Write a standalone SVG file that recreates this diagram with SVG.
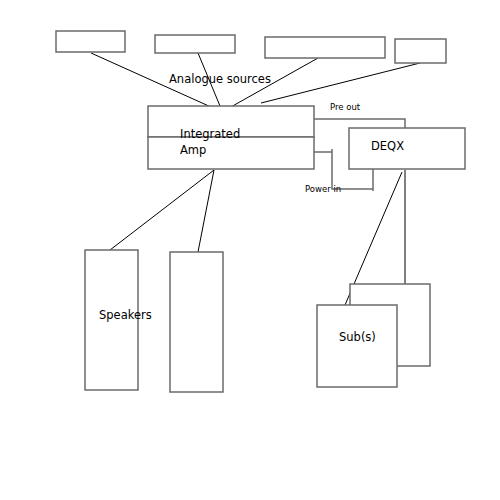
<svg xmlns="http://www.w3.org/2000/svg" width="500" height="500" viewBox="0 0 500 500">
<style>
.box{fill:#fff;stroke:#6b6b6b;stroke-width:1.5}
.wire{fill:none;stroke:#000;stroke-width:1}
.gw{fill:none;stroke:#6b6b6b;stroke-width:1.5}
text{font-family:"DejaVu Sans",sans-serif;fill:#000}
.l{font-size:11.5px}
.s{font-size:8.5px}
</style>
<rect width="500" height="500" fill="#fff"/>
<g id="connectors">
<line class="wire" x1="91" y1="53" x2="211" y2="107"/>
<line class="wire" x1="198" y1="53" x2="220" y2="106"/>
<line class="wire" x1="318" y1="58" x2="229" y2="108"/>
<line class="wire" x1="420" y1="63" x2="261" y2="103"/>
<polyline class="gw" points="314,119 405,119 405,128"/>
<polyline class="gw" points="314,152 332,152"/>
<polyline class="gw" points="332,149 332,189 373,189"/>
<line class="gw" x1="373" y1="169" x2="373" y2="191"/>
<line class="wire" x1="214" y1="170" x2="110" y2="250"/>
<line class="wire" x1="214" y1="170" x2="198" y2="252"/>
<line class="wire" x1="402" y1="172" x2="345" y2="305"/>
<line class="wire" x1="405" y1="170" x2="405" y2="285"/>
</g>
<g id="src1"><rect class="box" x="56" y="31" width="69" height="21"/></g>
<g id="src2"><rect class="box" x="155" y="35" width="80" height="18"/></g>
<g id="src3"><rect class="box" x="265" y="37" width="120" height="21"/></g>
<g id="src4"><rect class="box" x="395" y="39" width="51" height="24"/></g>
<g id="label-sources"><text class="l" x="169" y="83">Analogue sources</text></g>
<g id="amp">
<rect class="box" x="148" y="106" width="166" height="31"/>
<rect class="box" x="148" y="137" width="166" height="32"/>
<text class="l" x="180" y="138">Integrated</text>
<text class="l" x="180" y="154">Amp</text>
</g>
<g id="label-preout"><text class="s" x="330" y="110">Pre out</text></g>
<g id="label-powerin"><text class="s" x="305" y="192">Power in</text></g>
<g id="deqx">
<rect class="box" x="349" y="128" width="116" height="41"/>
<text class="l" x="371" y="150">DEQX</text>
</g>
<g id="speaker1">
<rect class="box" x="85" y="250" width="53" height="140"/>
</g>
<g id="speaker2">
<rect class="box" x="170" y="252" width="53" height="140"/>
</g>
<g id="label-speakers"><text class="l" x="99" y="319">Speakers</text></g>
<g id="sub2"><rect class="box" x="350" y="284" width="80" height="82"/></g>
<g id="sub1">
<rect class="box" x="317" y="305" width="80" height="82"/>
<text class="l" x="339" y="341">Sub(s)</text>
</g>
</svg>
